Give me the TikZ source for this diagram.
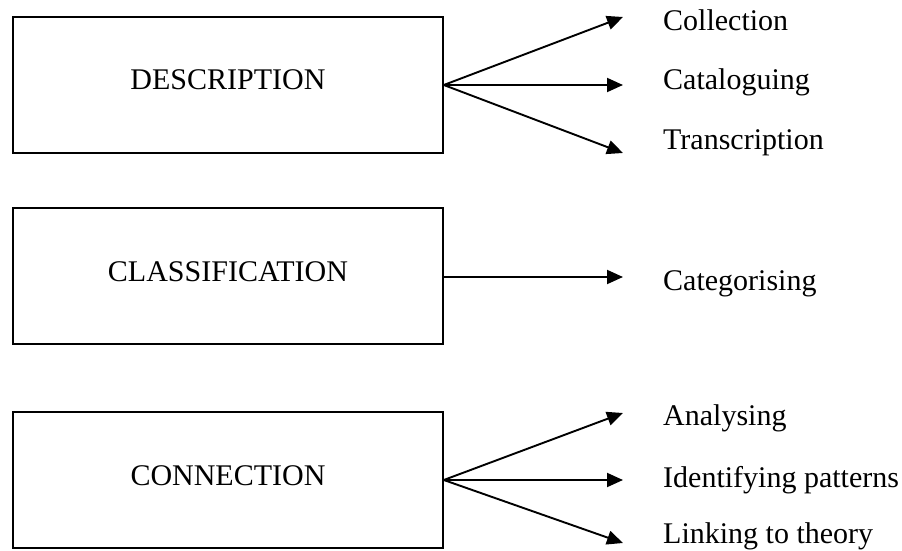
\documentclass[tikz,border=0pt]{standalone}
\usepackage{fontspec}
\setmainfont{Liberation Serif}
\usetikzlibrary{arrows.meta}
\begin{document}
\begin{tikzpicture}[x=1pt,y=1pt,
        stage/.style={draw,line width=1.6pt,minimum width=430pt,minimum height=136pt,inner sep=0pt,
            text height=20pt,text depth=10pt,font=\fontsize{30}{36}\selectfont},
        activity/.style={anchor=base west,inner sep=0pt,font=\fontsize{30}{36}\selectfont},
        link/.style={line width=1.9pt,-{Triangle[length=16pt,width=14pt]}}]
        \useasboundingbox (0,0) rectangle (902,550);

        \node[stage] (desc) at (228,465) {DESCRIPTION};
        \node[stage] (class) at (228,274) {CLASSIFICATION};
        \node[stage] (conn) at (228,70) {CONNECTION};

        \coordinate (coll-tip) at (623,533);
        \coordinate (cat-tip) at (623,465);
        \coordinate (trans-tip) at (623,397);
        \coordinate (categ-tip) at (623,273);
        \coordinate (anal-tip) at (623,137);
        \coordinate (ident-tip) at (623,70);
        \coordinate (link-tip) at (623,7);

        \node[activity] (coll) at (663,519) {Collection};
        \node[activity] (cat) at (663,460) {Cataloguing};
        \node[activity] (trans) at (663,400) {Transcription};
        \node[activity] (categ) at (663,260) {Categorising};
        \node[activity] (anal) at (663,125) {Analysing};
        \node[activity] (ident) at (663,63) {Identifying patterns};
        \node[activity] (link) at (663,7) {Linking to theory};

        \draw[link] (desc.east) -- (coll-tip);
        \draw[link] (desc.east) -- (cat-tip);
        \draw[link] (desc.east) -- (trans-tip);
        \draw[link] (class.east |- categ-tip) -- (categ-tip);
        \draw[link] (conn.east) -- (anal-tip);
        \draw[link] (conn.east) -- (ident-tip);
        \draw[link] (conn.east) -- (link-tip);
    \end{tikzpicture}
\end{document}
